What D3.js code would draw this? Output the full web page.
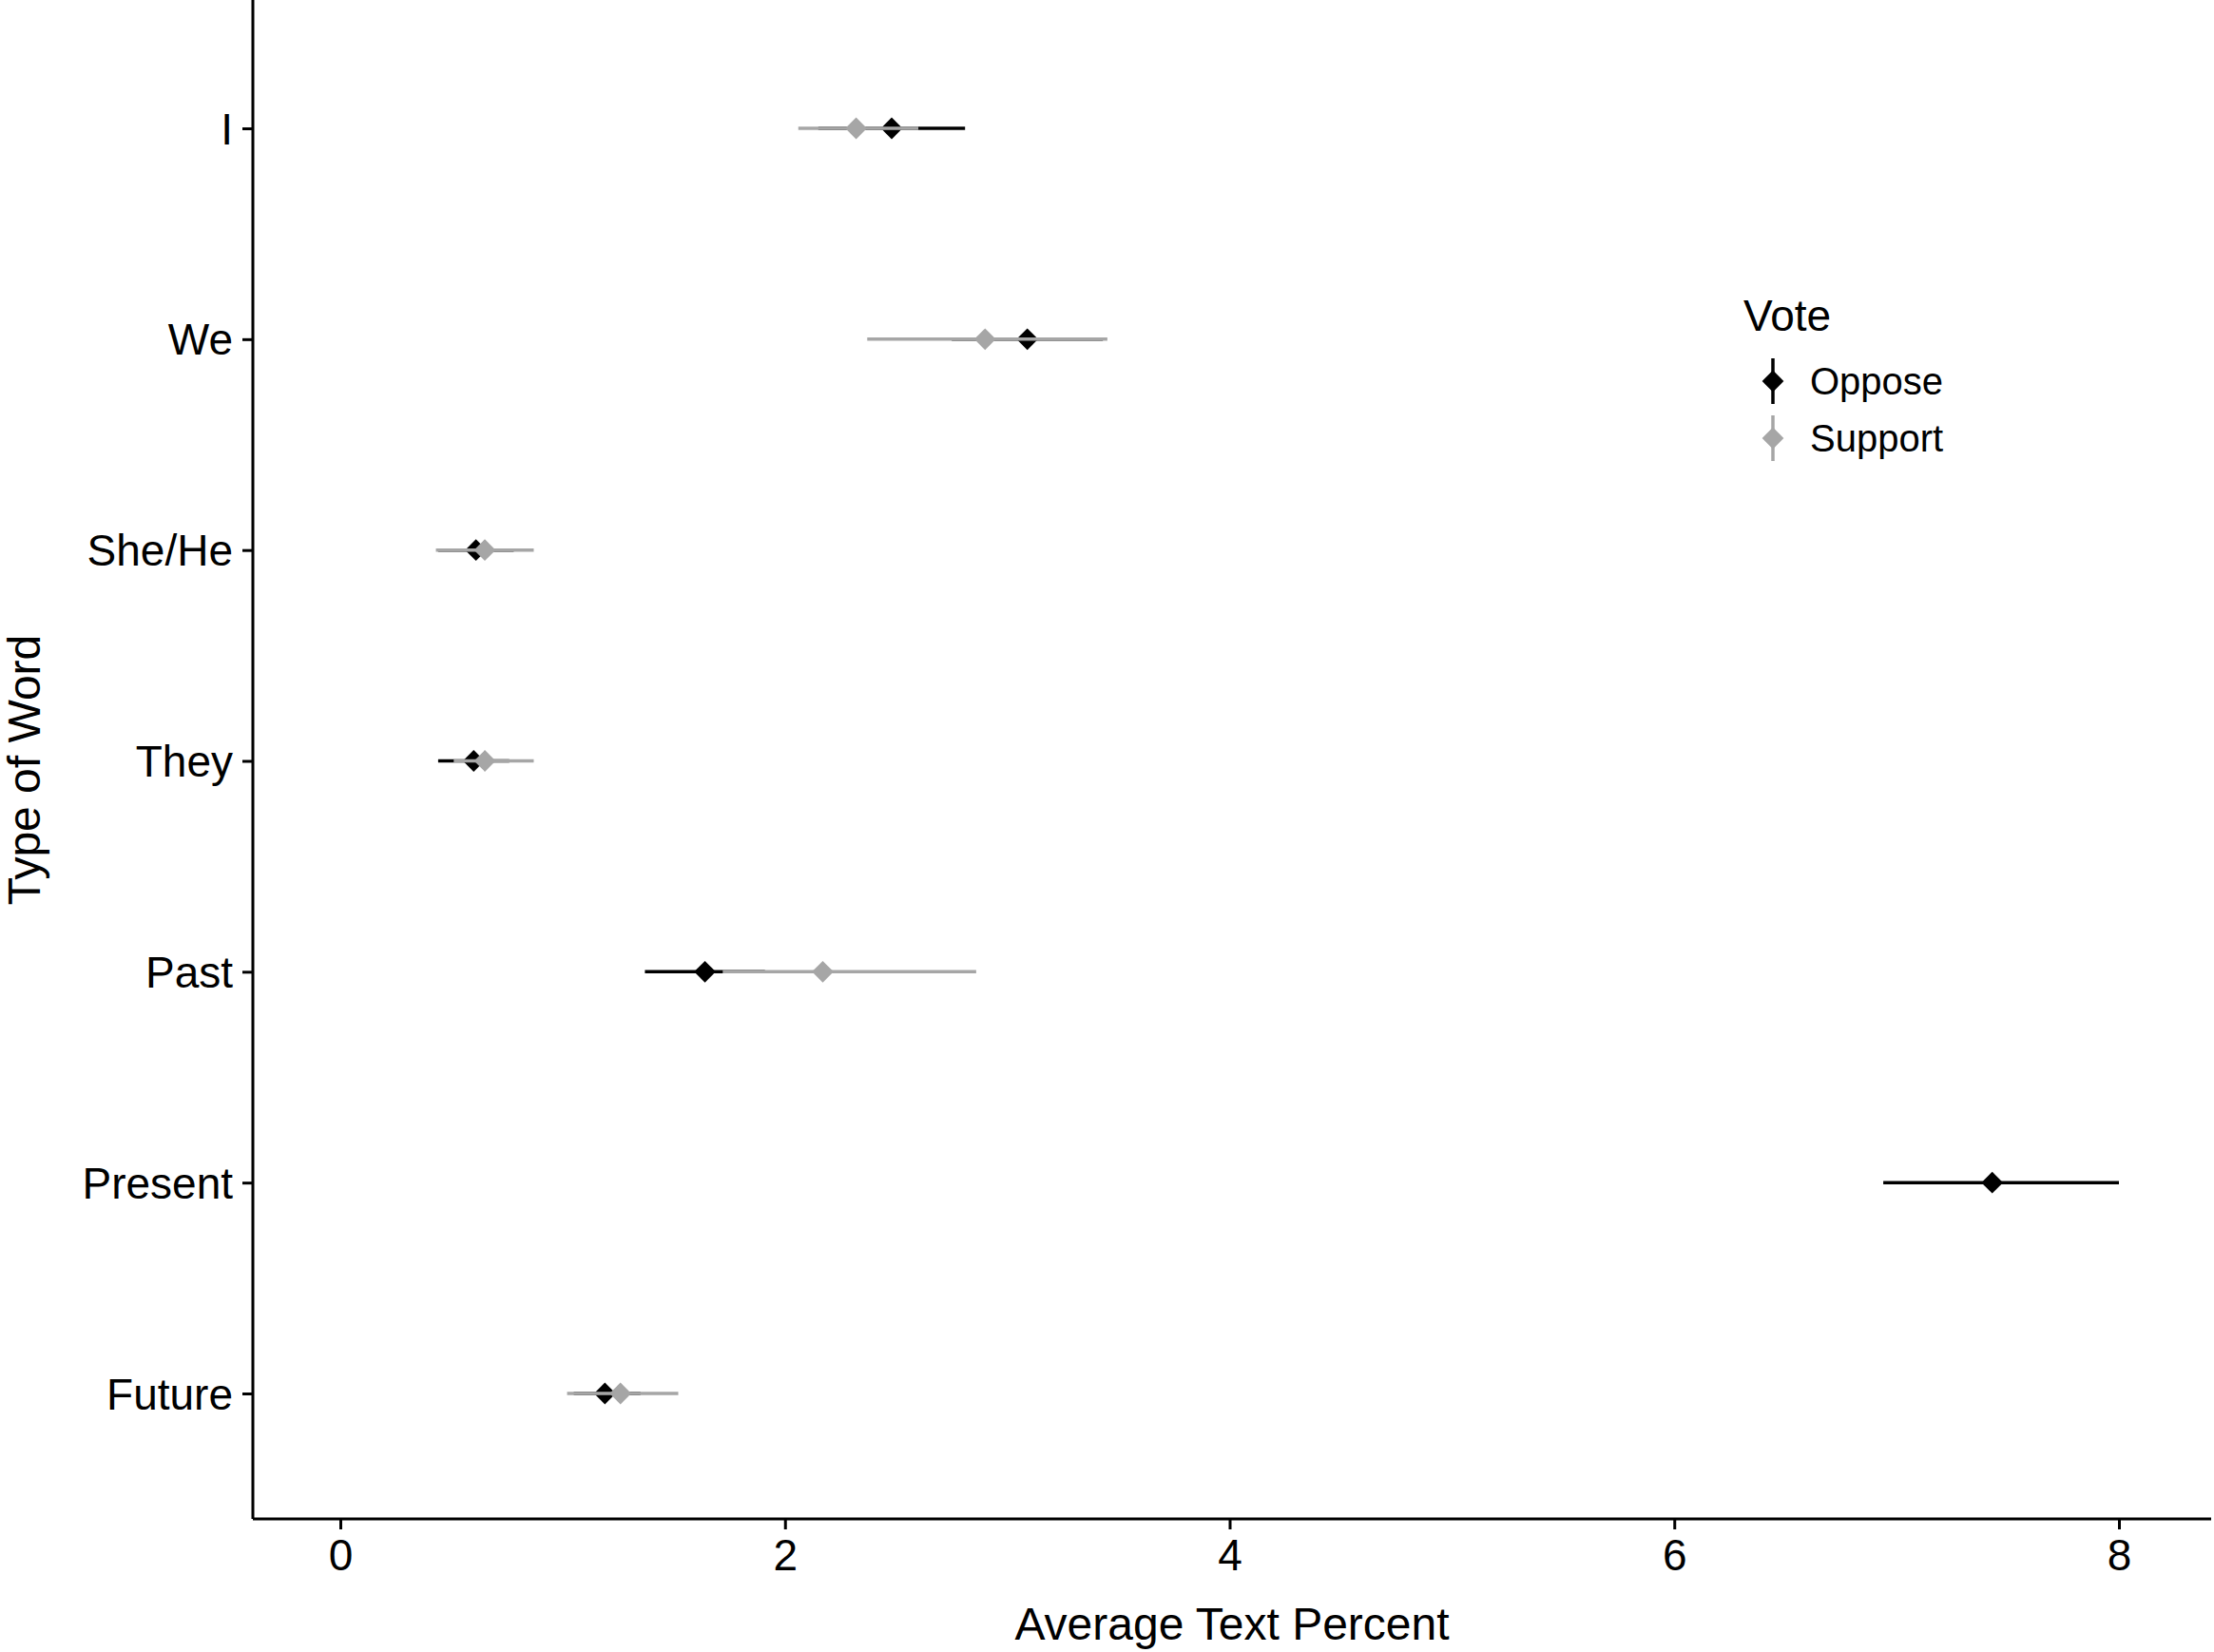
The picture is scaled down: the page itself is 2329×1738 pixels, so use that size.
<!DOCTYPE html><html><head><meta charset="utf-8">
<script src="https://cdn.jsdelivr.net/npm/d3@7/dist/d3.min.js"></script>
<style>body{margin:0;background:#fff}text{font-family:"Liberation Sans",Arial,sans-serif}</style></head>
<body><svg id="c" width="2329" height="1738"></svg>
<script>
const categories=["I","We","She/He","They","Past","Present","Future"];
const opposeMean=[2.48,3.09,0.61,0.60,1.64,7.43,1.19];
const opposeLow=[2.15,2.75,0.44,0.44,1.37,6.94,1.05];
const opposeHigh=[2.81,3.43,0.78,0.76,1.91,8.00,1.35];
const supportMean=[2.32,2.90,0.65,0.65,2.17,null,1.26];
const supportLow=[2.06,2.37,0.43,0.51,1.72,null,1.02];
const supportHigh=[2.60,3.45,0.87,0.87,2.86,null,1.52];
const xTicks=[0,2,4,6,8];
const svg=d3.select("#c");
const x=d3.scaleLinear().domain([0,8]).range([358,2229]);
const y=d3.scalePoint().domain(categories).range([135,1466]);
const L=266,B=1598;
const series=[{n:"Oppose",c:"#000",m:opposeMean,l:opposeLow,h:opposeHigh},{n:"Support",c:"#a6a6a6",m:supportMean,l:supportLow,h:supportHigh}];
const ax=svg.append("g").attr("transform",`translate(0,${B})`).call(d3.axisBottom(x).tickValues(xTicks).tickSize(11).tickSizeOuter(0).tickPadding(10));
ax.select(".domain").attr("d",`M${L},0H${2326}`);
const ay=svg.append("g").attr("transform",`translate(${L},0)`).call(d3.axisLeft(y).tickSize(11).tickPadding(10));
ay.select(".domain").attr("d",`M0,0V${B}`);
svg.selectAll(".domain,.tick line").attr("stroke","#000").attr("stroke-width",3);
svg.selectAll(".tick text").attr("font-size",46).attr("fill","#000");
ay.selectAll(".tick text").attr("dy","0.35em");
series.forEach(s=>{
 const g=svg.append("g");
 categories.forEach((c,i)=>{ if(s.m[i]==null)return;
  g.append("line").attr("x1",x(s.l[i])).attr("x2",x(s.h[i])).attr("y1",y(c)).attr("y2",y(c)).attr("stroke",s.c).attr("stroke-width",3.5);
  g.append("path").attr("d",d3.symbol(d3.symbolDiamond2,330)()).attr("transform",`translate(${x(s.m[i])},${y(c)})`).attr("fill",s.c);
 });
});
svg.append("text").attr("x",(L+2326)/2).attr("y",1725).attr("text-anchor","middle").attr("font-size",48).text("Average Text Percent");
svg.append("text").attr("transform",`translate(42,810) rotate(-90)`).attr("text-anchor","middle").attr("font-size",48).text("Type of Word");
svg.append("text").attr("x",1834).attr("y",348).attr("font-size",46).text("Vote");
series.forEach((s,i)=>{const yy=401+i*60;
 svg.append("line").attr("x1",1865).attr("x2",1865).attr("y1",yy-24).attr("y2",yy+24).attr("stroke",s.c).attr("stroke-width",3.5);
 svg.append("path").attr("d",d3.symbol(d3.symbolDiamond2,330)()).attr("transform",`translate(1865,${yy})`).attr("fill",s.c);
 svg.append("text").attr("x",1904).attr("y",yy).attr("dy","0.35em").attr("font-size",40).text(s.n);
});
</script></body></html>
